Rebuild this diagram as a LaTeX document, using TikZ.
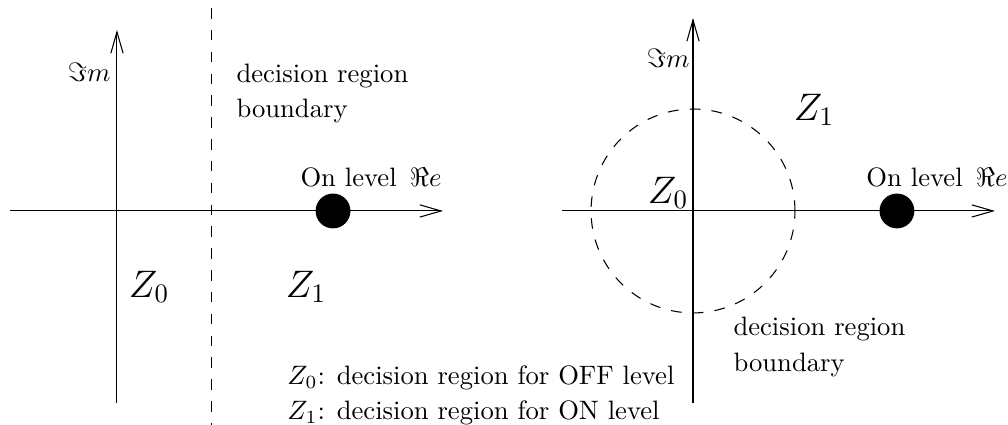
\documentclass[tikz,border=0pt]{standalone}
\usepackage{amsmath,amssymb}
\usetikzlibrary{arrows.meta,positioning,calc}
\begin{document}
\begin{tikzpicture}[
	ax/.style={-{Straight Barb[length=8pt,width=4.6pt]}},
	bnd/.style={dash pattern=on 4pt off 4.2pt},
	dot/.style={circle,fill=black,minimum size=4.6mm,inner sep=0pt},
	lab/.style={inner sep=0pt},
	reg/.style={inner sep=0pt,font=\Large}
	]
	\useasboundingbox (0,0) rectangle (13.306,5.61);
	% left: straight boundary
	\coordinate (o1) at (1.544,2.825);
	\coordinate (w1) at (0.132,2.825);
	\coordinate (e1) at (5.848,2.825);
	\coordinate (s1) at (1.544,0.29);
	\coordinate (n1) at (1.544,5.214);
	\draw[ax] (w1) -- (e1);
	\draw[ax] (s1) -- (n1);
	\coordinate (bt) at (2.798,5.504);
	\coordinate (bb) at (2.798,0);
	\draw[bnd] (bt) -- (bb);
	\node[dot] (on1) at (4.396,2.825) {};
	\node[lab,anchor=base west] (re1) at (3.96,3.142) {On level~$\,\Re e$};
	\node[lab,anchor=east] (im1) at (1.465,4.66) {$\Im m$};
	\node[lab,anchor=north west,align=left] (bl1) at (3.115,4.778)
	{decision region\\[1.2pt]boundary};
	\node[reg] (za) at (1.967,1.822) {$Z_0$};
	\node[reg] (zb) at (4.039,1.822) {$Z_1$};
	\node[lab,anchor=north west,align=left] (key) at (3.788,0.792)
	{$Z_0$: decision region for OFF level\\[1.2pt]$Z_1$: decision region for ON level};
	
	% right: circular boundary
	\coordinate (o2) at (9.148,2.825);
	\coordinate (w2) at (7.418,2.825);
	\coordinate (e2) at (13.134,2.825);
	\coordinate (s2) at (9.148,0.29);
	\coordinate (n2) at (9.148,5.372);
	\draw[ax] (w2) -- (e2);
	\draw[ax] (s2) -- (n2);
	\draw[bnd] (o2) circle (1.346);
	\node[dot] (on2) at (11.84,2.825) {};
	\node[lab,anchor=base west] (re2) at (11.431,3.142) {On level~$\,\Re e$};
	\node[lab,anchor=east] (im2) at (9.108,4.844) {$\Im m$};
	\node[reg] (zc) at (8.818,3.062) {$Z_0$};
	\node[reg] (zd) at (10.745,4.158) {$Z_1$};
	\node[lab,anchor=north west,align=left] (bl2) at (9.676,1.426)
	{decision region\\[1.2pt]boundary};
\end{tikzpicture}
\end{document}
